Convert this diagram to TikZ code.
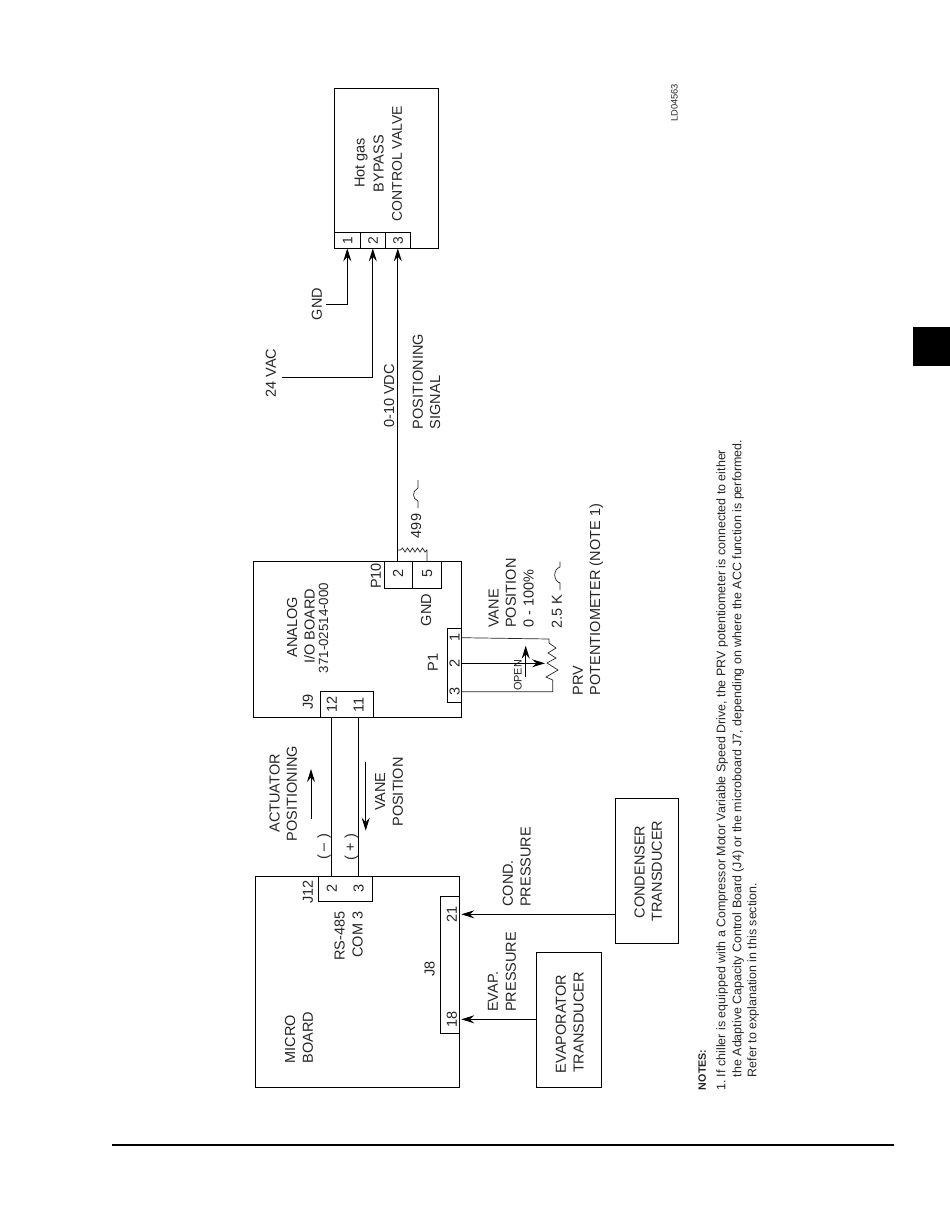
\documentclass[tikz,border=0pt]{standalone}
\usepackage{fontspec}
\setmainfont{Liberation Sans}
\usetikzlibrary{arrows.meta}
\newcommand{\rbox}[5]{\node[boxed,minimum width={(#4-#2)*1pt},minimum height={(#5-#3)*1pt}] (#1) at ({(#2+#4)/2},{(#3+#5)/2}) {};}
\tikzset{
 x=1pt,y=-1pt,
 boxed/.style={draw=black,line width=0.9pt,inner sep=0pt,outer sep=0pt,anchor=center},
 lbl/.style={rotate=90,inner sep=0pt,outer sep=0pt,text height=10.4pt,text depth=0pt,font=\fontsize{14.5}{14.5}\selectfont,text=black!85},
 lblw/.style={lbl,anchor=west},
 small/.style={lbl,text height=7.8pt,font=\fontsize{10.9}{11}\selectfont},
 note/.style={rotate=90,inner sep=0pt,outer sep=0pt,anchor=west,text height=8.6pt,text depth=0pt,font=\fontsize{12.45}{12}\selectfont,text=black!85},
 wire/.style={line width=0.95pt,black},
 arr/.style={wire,{Stealth[length=13pt,width=8pt,inset=4.5pt]}-},
 arrf/.style={wire,-{Stealth[length=13pt,width=8pt,inset=4.5pt]}},
 thin wire/.style={line width=0.7pt,black!85},
}
\begin{document}
\begin{tikzpicture}
\useasboundingbox (0,0) rectangle (950,1229);
\fill[white] (0,0) rectangle (950,1229);
% page furniture
\node[fill=black,minimum width=37pt,minimum height=39pt,inner sep=0pt] (tab) at (931.5,346.5) {};
\coordinate (ruleA) at (112,1145);
\coordinate (ruleB) at (894,1145);
\draw[line width=1.7pt] (ruleA) -- (ruleB);
\node[small,text height=6.7pt,font=\fontsize{9.3}{10}\selectfont] (ld) at (674.3,103) {LD04563};
% Hot gas valve
\rbox{valve}{334.3}{88.5}{438.3}{248.3}
\rbox{hgA}{334.3}{232.3}{360.3}{248.3}
\rbox{hgB}{360.3}{232.3}{385.3}{248.3}
\rbox{hgC}{385.3}{232.3}{410.3}{248.3}
\node[small,font=\fontsize{13.8}{14}\selectfont,text height=9.9pt] (n1v) at (hgA) {1};
\node[small,font=\fontsize{13.8}{14}\selectfont,text height=9.9pt] (n2v) at (hgB) {2};
\node[small,font=\fontsize{13.8}{14}\selectfont,text height=9.9pt] (n3v) at (hgC) {3};
\node[lbl] (hot) at (359.3,163) {Hot gas};
\node[lbl] (byp) at (378.3,163.7) {BYPASS};
\node[lbl,font=\fontsize{14}{14}\selectfont] (cv) at (396.7,163.7) {CONTROL VALVE};
\node[lbl] (gndA) at (316.7,304) {GND};
\node[lbl] (vac) at (270.7,373) {24 VAC};
\node[lbl] (vdc) at (389,396) {0-10 VDC};
\node[lblw] (posn) at (417.7,429) {POSITIONING};
\node[lblw] (sig) at (435,429) {SIGNAL};
\coordinate (gndEnd) at (326,304.3);
\coordinate (vacEnd) at (281.7,377.3);
\draw[arr] (hgA.south) |- (gndEnd);
\draw[arr] (hgB.south) |- (vacEnd);
% Analog board
\rbox{analog}{253.3}{561.3}{461.7}{717.3}
\rbox{pTen}{384.3}{561.3}{412.3}{588.3}
\rbox{pFive}{412.3}{561.3}{441.7}{588.3}
\rbox{pOne}{447.3}{628.3}{461.7}{702.3}
\rbox{jNine}{320}{691}{373.3}{717.3}
\node[lbl] (aA) at (292,627) {ANALOG};
\node[lbl] (aB) at (309.3,626.5) {I/O BOARD};
\node[lbl,font=\fontsize{13.3}{13}\selectfont] (aC) at (323,628) {371-02514-000};
\node[lbl] (pTenL) at (375.7,576) {P10};
\node[lbl] (pTwo) at (398,573) {2};
\node[lbl] (pFv) at (427,573) {5};
\node[lbl] (gndB) at (426,610) {GND};
\node[lbl] (pOneL) at (432.7,662.7) {P1};
\node[lbl] (pa) at (454.5,637.7) {1};
\node[lbl] (pb) at (454.5,663.3) {2};
\node[lbl] (pc) at (454.5,691.7) {3};
\node[lbl] (jNineL) at (307.7,701.7) {J9};
\node[lbl] (n12) at (331.7,704) {12};
\node[lbl] (n11) at (358.3,705) {11};
\node[lblw] (vv) at (493.3,627.7) {VANE};
\node[lblw] (vp) at (510.7,627.7) {POSITION};
\node[lblw] (vz) at (528.3,627.7) {0 - 100\%};
\node[lblw] (kk) at (556.7,628.5) {2.5 K};
\node[lblw] (prv) at (577.7,695) {PRV};
\node[lblw] (pot) at (595,695) {POTENTIOMETER (NOTE 1)};
\node[small] (opn) at (517.7,675.3) {OPEN};
% resistor 499 and signal wire
\node[lbl] (rv) at (416,526) {499};
\coordinate (rL) at (pTwo |- 0,550);
\coordinate (rR) at (pFv |- 0,550);
\draw[arr] (hgC.south) -- (hgC.south |- pTen.north);
\draw[thin wire] (pFive.north -| pFv) -- (rR) -- (426.7,550) -- (425,552) -- (422.5,548) -- (420,552) -- (417.5,548) -- (415,552) -- (412.5,548) -- (410,552) -- (407.5,548) -- (405,552) -- (402.5,548) -- (400.5,550) -- (hgC.south |- rL);
\draw[thin wire] (418,508) -- (418,501) .. controls (412,499) and (412,491) .. (418,488) -- (418,480);
\draw[thin wire] (560,590) -- (560,583) .. controls (553,581) and (553,569) .. (560,567) -- (560,561.7);
% potentiometer
\coordinate (potA) at (549,639);
\coordinate (potC) at (552.7,691.7);
\coordinate (wiper) at (545,663.3);
\draw[thin wire] (pOne.east |- pa) -- (potA) -- (549,643) -- (556,648) -- (548,653) -- (556,658) -- (547,663) -- (558,670) -- (546,677) -- (552.7,680) -- (potC) -- (pOne.east |- pc);
\draw[arrf] (pOne.east |- pb) -- (wiper);
\coordinate (openA) at (525.7,676.7);
\coordinate (openB) at (525.7,645.7);
\draw[arrf] (openA) -- (openB);
% micro board
\rbox{micro}{255.3}{876.7}{459.3}{1087.3}
\rbox{jTwelve}{318.3}{876.7}{372.3}{901.3}
\rbox{jEight}{440.3}{896.3}{459.3}{1033.3}
\node[lbl] (mA) at (290,1039) {MICRO};
\node[lbl] (mB) at (307.7,1037.5) {BOARD};
\node[lbl] (jTwL) at (307.7,891.7) {J12};
\node[lbl] (nTw) at (331.7,888) {2};
\node[lbl] (nTh) at (358.3,888) {3};
\node[lbl] (rs) at (339.3,936) {RS-485};
\node[lbl] (com) at (357.3,934.5) {COM 3};
\node[lbl] (jEL) at (429.3,969.3) {J8};
\node[lbl] (nTO) at (451.7,914.3) {21};
\node[lbl] (nEt) at (451.7,1019.3) {18};
\draw[wire] (n12 |- analog.south) -- (nTw |- micro.north);
\draw[wire] (n11 |- analog.south) -- (nTh |- micro.north);
% link labels
\node[lbl] (acA) at (274.3,793.3) {ACTUATOR};
\node[lbl] (acB) at (291.7,793.7) {POSITIONING};
\node[lbl] (minus) at (322.7,847) {(\hspace{4pt}--\hspace{4pt})};
\node[lbl] (plus) at (350,847) {(\hspace{4pt}+\hspace{4pt})};
\node[lbl] (vvB) at (380,791.7) {VANE};
\node[lbl] (vpB) at (397.7,792) {POSITION};
\coordinate (upA) at (311,819);
\coordinate (upB) at (311,769);
\coordinate (dnA) at (365.7,762.3);
\coordinate (dnB) at (365.7,830.7);
\draw[arrf] (upA) -- (upB);
\draw[arrf] (dnA) -- (dnB);
% transducers
\rbox{cond}{615.7}{798.3}{678.3}{943.3}
\rbox{evap}{536.3}{952.3}{601.3}{1087.3}
\node[lbl] (cA) at (639.3,872) {CONDENSER};
\node[lbl] (cB) at (656.7,871) {TRANSDUCER};
\node[lbl] (eA) at (560.7,1024) {EVAPORATOR};
\node[lbl] (eB) at (578.3,1022.5) {TRANSDUCER};
\node[lblw] (ccA) at (507.7,906.7) {COND.};
\node[lblw] (ccB) at (525.3,906.7) {PRESSURE};
\node[lblw] (epA) at (492.7,1011.7) {EVAP.};
\node[lblw] (epB) at (510.7,1011.7) {PRESSURE};
\draw[arr] (micro.east |- nTO) ++(2,0) coordinate (tipC) -- (cond.west |- tipC);
\draw[arr] (micro.east |- nEt) ++(2,0) coordinate (tipE) -- (evap.west |- tipE);
% notes
\node[note,text height=7.7pt,font=\bfseries\fontsize{10.7}{11}\selectfont] (nt) at (702,1090) {NOTES:};
\node[note] (lA) at (721,1090) {1.};
\node[note] (lB) at (721,1077) {If chiller is equipped with a Compressor Motor Variable Speed Drive, the PRV potentiometer is connected to either};
\node[note] (lC) at (737,1077) {the Adaptive Capacity Control Board (J4) or the microboard J7, depending on where the ACC function is performed.};
\node[note] (lD) at (752,1077) {Refer to explanation in this section.};
\end{tikzpicture}
\end{document}
